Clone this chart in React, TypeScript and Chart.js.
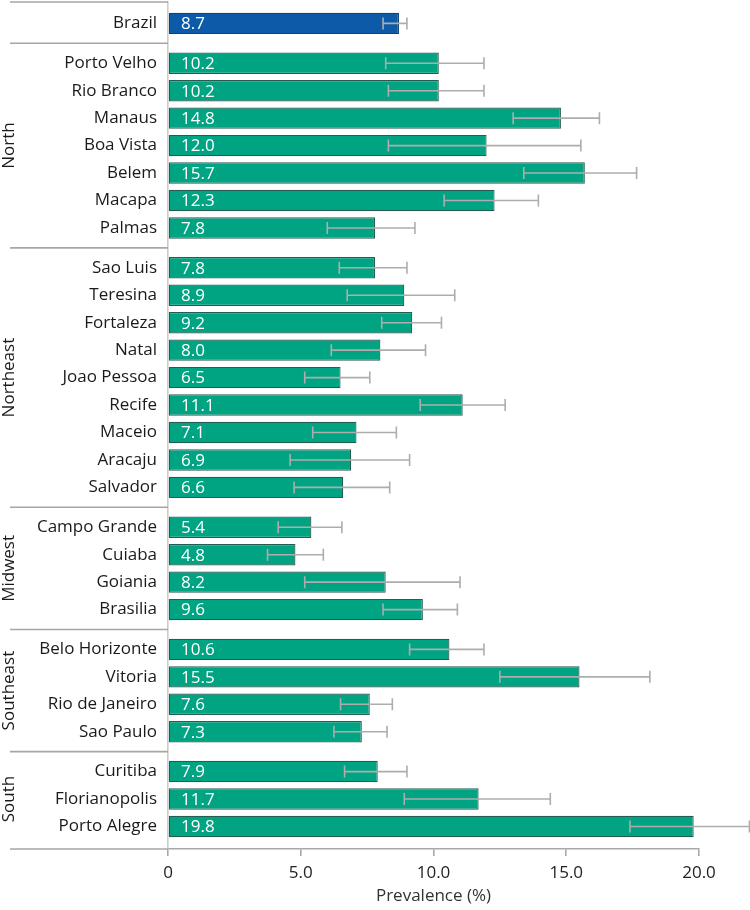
import React, { useEffect, useRef } from 'react';
import { Chart, registerables } from 'chart.js';

Chart.register(...registerables);

const regions = ['', 'North', 'Northeast', 'Midwest', 'Southeast', 'South'];
const regionSizes = [1, 7, 9, 4, 4, 3];
const cities = [
  'Brazil',
  'Porto Velho', 'Rio Branco', 'Manaus', 'Boa Vista', 'Belem', 'Macapa', 'Palmas',
  'Sao Luis', 'Teresina', 'Fortaleza', 'Natal', 'Joao Pessoa', 'Recife', 'Maceio', 'Aracaju', 'Salvador',
  'Campo Grande', 'Cuiaba', 'Goiania', 'Brasilia',
  'Belo Horizonte', 'Vitoria', 'Rio de Janeiro', 'Sao Paulo',
  'Curitiba', 'Florianopolis', 'Porto Alegre',
];
const prevalence = [
  8.7,
  10.2, 10.2, 14.8, 12.0, 15.7, 12.3, 7.8,
  7.8, 8.9, 9.2, 8.0, 6.5, 11.1, 7.1, 6.9, 6.6,
  5.4, 4.8, 8.2, 9.6,
  10.6, 15.5, 7.6, 7.3,
  7.9, 11.7, 19.8,
];
const ciLower = [
  8.1,
  8.2, 8.3, 13.0, 8.3, 13.4, 10.4, 6.0,
  6.45, 6.75, 8.05, 6.15, 5.15, 9.5, 5.45, 4.6, 4.75,
  4.15, 3.75, 5.15, 8.1,
  9.1, 12.5, 6.5, 6.25,
  6.65, 8.9, 17.4,
];
const ciUpper = [
  9.0,
  11.9, 11.9, 16.25, 15.55, 17.65, 13.95, 9.3,
  9.0, 10.8, 10.3, 9.7, 7.6, 12.7, 8.6, 9.1, 8.35,
  6.55, 5.85, 11.0, 10.9,
  11.9, 18.15, 8.45, 8.25,
  9.0, 14.4, 21.9,
];
const xTicks = [0, 5, 10, 15, 20];

const GAP = 0.45;
const FONT = '"Open Sans", sans-serif';

export default function App() {
  const ref = useRef<HTMLCanvasElement | null>(null);

  useEffect(() => {
    if (!ref.current) return;

    const rowPos: number[] = [];
    const groupRange: [number, number][] = [];
    let idx = 0;
    regionSizes.forEach((n, g) => {
      const start = idx + g * GAP;
      for (let k = 0; k < n; k++) {
        rowPos.push(idx + g * GAP);
        idx++;
      }
      groupRange.push([start, idx - 1 + g * GAP]);
    });
    const yMin = rowPos[0] - 0.78;
    const yMax = rowPos[rowPos.length - 1] + 0.82;

    const overlay = {
      id: 'overlay',
      afterDatasetsDraw(chart: any) {
        const ctx = chart.ctx;
        const xs = chart.scales.x;
        const meta = chart.getDatasetMeta(0);
        ctx.save();
        ctx.strokeStyle = '#adadad';
        ctx.lineWidth = 1.6;
        meta.data.forEach((bar: any, i: number) => {
          const yc = bar.y;
          const x0 = xs.getPixelForValue(ciLower[i]);
          const x1 = xs.getPixelForValue(ciUpper[i]);
          ctx.beginPath();
          ctx.moveTo(x0, yc);
          ctx.lineTo(x1, yc);
          ctx.moveTo(x0, yc - 6);
          ctx.lineTo(x0, yc + 6);
          ctx.moveTo(x1, yc - 6);
          ctx.lineTo(x1, yc + 6);
          ctx.stroke();
        });
        ctx.fillStyle = '#ffffff';
        ctx.font = `17px ${FONT}`;
        ctx.textAlign = 'left';
        ctx.textBaseline = 'middle';
        meta.data.forEach((bar: any, i: number) => {
          ctx.fillText(prevalence[i].toFixed(1), xs.getPixelForValue(0) + 13, bar.y + 1);
        });
        ctx.restore();
      },
      afterDraw(chart: any) {
        const ctx = chart.ctx;
        const ys = chart.scales.y;
        const left = chart.chartArea.left;
        const seps: number[] = [yMin];
        for (let g = 0; g < groupRange.length - 1; g++) {
          seps.push((groupRange[g][1] + groupRange[g + 1][0]) / 2);
        }
        seps.push(yMax);
        ctx.save();
        ctx.strokeStyle = '#a6a6a6';
        ctx.lineWidth = 1.6;
        seps.forEach((v) => {
          const py = ys.getPixelForValue(v);
          ctx.beginPath();
          ctx.moveTo(10, py);
          ctx.lineTo(left, py);
          ctx.stroke();
        });
        ctx.fillStyle = '#1a1a1a';
        ctx.font = `17px ${FONT}`;
        ctx.textAlign = 'center';
        ctx.textBaseline = 'middle';
        regions.forEach((r, g) => {
          if (!r) return;
          const yc = ys.getPixelForValue((groupRange[g][0] + groupRange[g][1]) / 2);
          ctx.save();
          ctx.translate(9, yc);
          ctx.rotate(-Math.PI / 2);
          ctx.fillText(r, 0, 0);
          ctx.restore();
        });
        ctx.restore();
      },
    };

    const chart = new Chart(ref.current, {
      type: 'bar',
      data: {
        datasets: [
          {
            data: cities.map((c, i) => ({ x: prevalence[i], y: rowPos[i] })) as any,
            backgroundColor: cities.map((c, i) => (i === 0 ? '#0d5ba8' : '#00a482')),
            borderColor: cities.map((c, i) => (i === 0 ? '#1c3f6b' : '#275c50')),
            borderWidth: 1.2,
            borderSkipped: false,
            barPercentage: 0.78,
            categoryPercentage: 1,
          },
        ],
      },
      options: {
        responsive: false,
        animation: false,
        indexAxis: 'y',
        devicePixelRatio: 1,
        layout: { padding: { top: 2, right: 51, bottom: 5, left: 0 } },
        plugins: { legend: { display: false }, tooltip: { enabled: false } },
        scales: {
          x: {
            type: 'linear',
            min: 0,
            max: 20,
            afterBuildTicks: (scale: any) => {
              scale.ticks = xTicks.map((v) => ({ value: v }));
            },
            afterFit: (scale: any) => {
              scale.height -= 3;
            },
            ticks: {
              font: { family: FONT, size: 17, lineHeight: 1 },
              color: '#222',
              padding: 9,
              callback: (v: any) => (Number(v) === 0 ? '0' : Number(v).toFixed(1)),
            },
            grid: {
              drawOnChartArea: false,
              drawTicks: true,
              tickLength: 7,
              color: '#a8a8a8',
              lineWidth: 1.6,
            },
            border: { display: true, color: '#a8a8a8', width: 1.6 },
            title: {
              display: true,
              text: 'Prevalence (%)',
              font: { family: FONT, size: 17, lineHeight: 1 },
              color: '#333',
              padding: { top: 0, bottom: 0 },
            },
          },
          y: {
            type: 'linear',
            offset: false,
            min: yMin,
            max: yMax,
            reverse: true,
            afterBuildTicks: (scale: any) => {
              scale.ticks = rowPos.map((v) => ({ value: v }));
            },
            afterFit: (scale: any) => {
              scale.width = 168;
              scale.paddingTop = 0;
              scale.paddingBottom = 0;
            },
            ticks: {
              autoSkip: false,
              padding: 11,
              font: { family: FONT, size: 17 },
              color: '#1a1a1a',
              callback: (v: any) => {
                const i = rowPos.findIndex((p) => Math.abs(p - Number(v)) < 1e-6);
                return i >= 0 ? cities[i] : '';
              },
            },
            grid: { display: false, drawTicks: false },
            border: { display: true, color: '#cccccc', width: 1.6 },
          },
        },
      },
      plugins: [overlay],
    } as any);

    return () => chart.destroy();
  }, []);

  return (
    <div style={{ position: 'absolute', left: 0, top: 0, width: 750, height: 910 }}>
      <canvas ref={ref} width={750} height={910} style={{ width: 750, height: 910, display: 'block' }} />
    </div>
  );
}
